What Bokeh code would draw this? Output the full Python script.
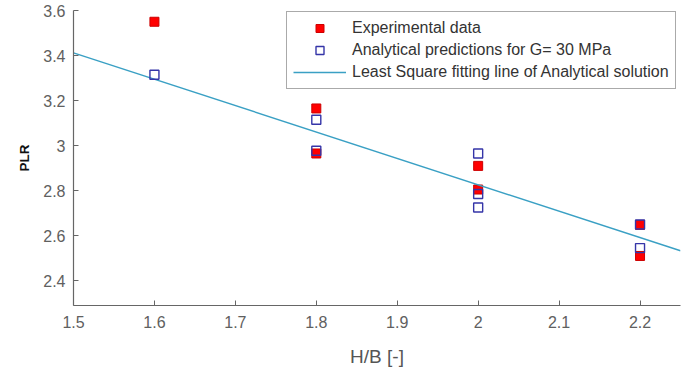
import numpy as np
from bokeh.plotting import figure
from bokeh.models import Range1d, FixedTicker, CustomJSTickFormatter, Legend, LegendItem
from bokeh.embed import file_html
from bokeh.resources import INLINE

# ---- data ----
exp_x = [1.6, 1.8, 1.8, 2.0, 2.0, 2.2, 2.2]
exp_y = [3.55, 3.165, 2.965, 2.91, 2.805, 2.648, 2.51]

ana_x = [1.6, 1.8, 1.8, 2.0, 2.0, 2.0, 2.2, 2.2]
ana_y = [3.315, 3.115, 2.977, 2.965, 2.785, 2.725, 2.65, 2.545]

fit_x = [1.5, 2.25]

x_ticks = [1.5, 1.6, 1.7, 1.8, 1.9, 2.0, 2.1, 2.2]
y_ticks = [2.4, 2.6, 2.8, 3.0, 3.2, 3.4, 3.6]

# least squares fit of analytical solution
slope, intercept = np.polyfit(ana_x, ana_y, 1)
fit_y = [slope * x + intercept for x in fit_x]

FONT = "Liberation Sans"

p = figure(frame_width=607, frame_height=295, output_backend="svg", toolbar_location=None,
           x_range=Range1d(1.5, 2.25), y_range=Range1d(2.29, 3.6),
           min_border_left=73, min_border_right=6, min_border_top=10, min_border_bottom=10)
p.outline_line_color = None
p.xgrid.visible = False
p.ygrid.visible = False
p.background_fill_color = "white"

fmt = CustomJSTickFormatter(code="return Number(tick.toFixed(1)).toString();")
for ax, ticks in ((p.xaxis[0], x_ticks), (p.yaxis[0], y_ticks)):
    ax.ticker = FixedTicker(ticks=ticks)
    ax.formatter = fmt
    ax.major_tick_in = 5
    ax.major_tick_out = 0
    ax.minor_tick_line_color = None
    ax.axis_line_color = "#666666"
    ax.major_tick_line_color = "#666666"
    ax.axis_line_width = 1.2
    ax.major_label_text_font = FONT
    ax.major_label_text_font_size = "16px"
    ax.major_label_text_color = "#606060"
p.xaxis.major_label_standoff = 10
p.yaxis.major_label_standoff = 8

p.xaxis.axis_label = "H/B [-]"
p.xaxis.axis_label_text_font = FONT
p.xaxis.axis_label_text_font_size = "19px"
p.xaxis.axis_label_text_font_style = "normal"
p.xaxis.axis_label_text_color = "#555555"
p.xaxis.axis_label_standoff = 15

p.yaxis.axis_label = "PLR"
p.yaxis.axis_label_text_font = FONT
p.yaxis.axis_label_text_font_size = "13.5px"
p.yaxis.axis_label_text_font_style = "bold"
p.yaxis.axis_label_text_color = "#111111"
p.yaxis.axis_label_standoff = 8

r_exp = p.scatter(exp_x, exp_y, marker="square", size=9, fill_color="#ff0000",
                  line_color="#cc0000", line_width=1)
r_fit = p.line(fit_x, fit_y, line_color="#3aa0c4", line_width=1.4)
r_ana = p.scatter(ana_x, ana_y, marker="square", size=9, fill_color=None,
                  line_color="#3535a8", line_width=1.4)

legend = Legend(items=[
    LegendItem(label="Experimental data", renderers=[r_exp]),
    LegendItem(label="Analytical predictions for G= 30 MPa", renderers=[r_ana]),
    LegendItem(label="Least Square fitting line of Analytical solution", renderers=[r_fit]),
], location=(213, 216))
legend.label_text_font = FONT
legend.label_text_font_size = "16px"
legend.label_text_color = "#333333"
legend.border_line_color = "#555555"
legend.border_line_width = 1.2
legend.glyph_width = 53
legend.glyph_height = 20
legend.label_height = 20
legend.spacing = 2
legend.padding = 6
legend.margin = 0
legend.label_standoff = 6
legend.background_fill_alpha = 1
p.add_layout(legend, "center")

open("out.html", "w").write(file_html(p, INLINE))
